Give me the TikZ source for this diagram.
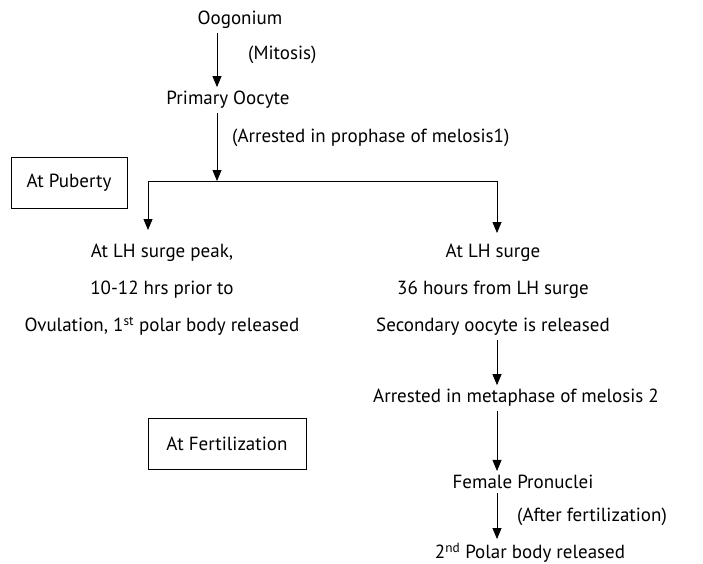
\documentclass[tikz,border=0pt]{standalone}
\usepackage{fontspec}
\setmainfont{PT Sans}
\usetikzlibrary{arrows.meta}

\begin{document}
\begin{tikzpicture}[x=1pt,y=-1pt,
	lbl/.style={font=\fontsize{19}{22}\selectfont,inner sep=1pt},
	stack/.style={align=center,inner sep=1pt,font=\fontsize{19}{37}\selectfont},
	tagbox/.style={lbl,draw,line width=1pt,minimum height=51pt},
	arr/.style={-{Triangle[length=11pt,width=9pt]},line width=0.8pt,shorten <=3pt,shorten >=3pt}]
	\useasboundingbox (0,0) rectangle (703,564);
	\node[lbl](oog) at (240,20){Oogonium};
	\node[lbl,anchor=west](mit) at (247,55){(Mitosis)};
	\node[lbl](prim) at (228,100){Primary Oocyte};
	\node[lbl,anchor=west](pro) at (231,138){(Arrested in prophase of melosis1)};
	\node[tagbox,minimum width=116pt](pub) at (69,183){At Puberty};
	\node[stack](lstack) at (162,290){At LH surge peak,\\10-12 hrs prior to\\Ovulation, 1\textsuperscript{st} polar body released};
	\node[stack](rstack) at (493,290){At LH surge\\36 hours from LH surge\\Secondary oocyte is released};
	\node[lbl](meta) at (516,398){Arrested in metaphase of melosis 2};
	\node[tagbox,minimum width=158pt](fert) at (227,444){At Fertilization};
	\node[lbl](fem) at (523,482){Female Pronuclei};
	\node[lbl,anchor=west](aft) at (516,517){(After fertilization)};
	\node[lbl](pol) at (530,553){2\textsuperscript{nd} Polar body released};
	\coordinate(split) at (217,181);
	\coordinate(lh l) at (148,230);
	\coordinate(lh r) at (497,233);
	\draw[arr](oog.south -| split)--(prim.north -| split);
	\draw[arr,shorten >=0pt](prim.south -| split)--(split);
	\draw[arr,shorten <=0pt,shorten >=0pt](split)-|(lh l);
	\draw[arr,shorten <=0pt,shorten >=0pt](split)-|(lh r);
	\draw[arr](rstack.south -| lh r)--(meta.north -| lh r);
	\draw[arr](meta.south -| lh r)--(fem.north -| lh r);
	\draw[arr](fem.south -| lh r)--(pol.north -| lh r);
\end{tikzpicture}
\end{document}
